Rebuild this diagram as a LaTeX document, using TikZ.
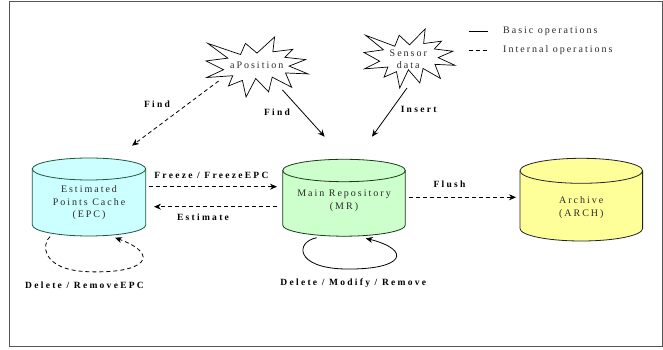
\documentclass[tikz,border=0pt]{standalone}
\usepackage{fontspec}
\setmainfont{Liberation Serif}
\newfontfamily\trackedfont[LetterSpace=20]{Liberation Serif}
\newfontfamily\trackedbold[LetterSpace=24]{Liberation Serif}
\usetikzlibrary{arrows.meta}

\definecolor{epcfill}{HTML}{CCFFFF}
\definecolor{mrfill}{HTML}{CCFFCC}
\definecolor{archfill}{HTML}{FFFF99}
\definecolor{epcline}{HTML}{1E5A3C}
\definecolor{mrline}{HTML}{1E3A1E}
\definecolor{archline}{HTML}{222222}
\definecolor{frameline}{HTML}{555555}
\definecolor{textgray}{HTML}{2A2A2A}

% database cylinder: centre x, top-ellipse y, bottom-ellipse y, x radius, y radius, fill, stroke
\newcommand\drawdb[7]{%
  \fill[#6] (#1-#4,#2) -- (#1-#4,#3)
    arc[start angle=180,end angle=360,x radius=#4,y radius=#5]
    -- (#1+#4,#2) arc[start angle=0,end angle=180,x radius=#4,y radius=#5] -- cycle;
  \draw[#7,line width=0.8pt] (#1-#4,#2) -- (#1-#4,#3)
    arc[start angle=180,end angle=360,x radius=#4,y radius=#5] -- (#1+#4,#2);
  \draw[#7,line width=0.8pt] (#1,#2) ellipse[x radius=#4,y radius=#5];
}

% explosion outline in a 100 x 100 box (y downwards)
\newcommand\burstpath{(50,26.85) -- (67.23,0) -- (65.53,24.65) -- (85.09,20.63) -- (77.32,33.87)
  -- (97.67,37.67) -- (81.51,48.50) -- (100,61.53) -- (77.95,59.92) -- (84.00,83.77)
  -- (64.91,66.93) -- (61.33,91.38) -- (48.76,69.14) -- (39.28,100) -- (35.72,72.35)
  -- (22.05,81.56) -- (26.24,64.52) -- (0.63,67.53) -- (17.23,54.51) -- (0,39.88)
  -- (21.42,35.26) -- (1.71,10.63) -- (33.85,29.26) -- (38.67,10.63) -- cycle}

\tikzset{
  dbtext/.style={font=\trackedfont\fontsize{10}{12.5}\selectfont, text=textgray,
    align=center, inner sep=0pt},
  oplabel/.style={font=\trackedbold\bfseries\fontsize{9.5}{11}\selectfont, text=black,
    inner sep=0pt},
  legendtext/.style={font=\trackedfont\fontsize{10}{12}\selectfont, text=textgray,
    anchor=west, inner sep=0pt},
  basicop/.style={line width=0.8pt, -{Stealth[length=7pt,width=6pt]}},
  internalop/.style={line width=0.8pt, dash pattern=on 4pt off 3pt,
    -{Stealth[length=7pt,width=6pt]}},
  burst/.style={line width=0.7pt, fill=white}
}

\begin{document}
\begin{tikzpicture}[x=1pt,y=1pt]
\useasboundingbox (0,0) rectangle (663,350);
\fill[white] (0,0) rectangle (663,350);
\draw[frameline, line width=1pt] (9.5,3.5) rectangle (662,348.5);

% legend
\draw[line width=0.8pt] (468.5,319) -- (488,319);
\draw[line width=0.8pt, dash pattern=on 4pt off 3pt] (468.5,300) -- (489,300);
\node[legendtext] (lgbasic) at (503,319) {Basic operations};
\node[legendtext] (lginternal) at (503,300) {Internal operations};

% stores
\drawdb{89}{181}{125}{56.7}{11}{epcfill}{epcline}
\drawdb{344}{179.5}{125}{61.3}{11.2}{mrfill}{mrline}
\drawdb{581.3}{179.2}{121.5}{61.3}{12.5}{archfill}{archline}
\node[dbtext, minimum width=113.4pt] (epc) at (89,147) {Estimated\\Points Cache\\(EPC)};
\node[dbtext, minimum width=122.6pt] (mr) at (344,149.2) {Main Repository\\(MR)};
\node[dbtext, minimum width=122.6pt] (arch) at (581.3,142.5) {Archive\\(ARCH)};

% event sources
\begin{scope}[shift={(206,313)},x=1.02pt,y=-0.60pt]
  \draw[burst] \burstpath;
\end{scope}
\begin{scope}[shift={(364,321)},x=0.91pt,y=-0.59pt]
  \draw[burst] \burstpath;
\end{scope}
\node[dbtext] (apos) at (256.7,285) {aPosition};
\node[dbtext] (sensor) at (408.3,291) {Sensor\\data};

% operations
\draw[internalop] ([shift={(-38.1,-16)}]apos.center) -- ([shift={(43,57.3)}]epc.center);
\draw[basicop] ([shift={(25.8,-25)}]apos.center) -- ([shift={(-19.3,64.1)}]mr.center);
\draw[basicop] ([shift={(-1.3,-29)}]sensor.center) -- ([shift={(28,64.1)}]mr.center);
\draw[internalop] ([shift={(59.8,16.3)}]epc.center) -- ([shift={(-67,14.1)}]mr.center);
\draw[internalop] ([shift={(-67,-5.9)}]mr.center) -- ([shift={(65,-3.7)}]epc.center);
\draw[internalop] ([shift={(65,3.5)}]mr.center) -- ([shift={(-65.3,10.2)}]arch.center);
\draw[internalop] ([shift={(-39,-33.7)}]epc.center)
  .. controls (42,107) and (40,80) .. (88,78.3)
  .. controls (145,76) and (162,95) .. ([shift={(26,-34.7)}]epc.center);
\draw[basicop] ([shift={(-27.3,-36.9)}]mr.center)
  .. controls (295,108) and (295,82) .. (345,81)
  .. controls (405,80) and (412,100) .. ([shift={(21.7,-37.5)}]mr.center);

% operation labels
\node[oplabel] (lfindepc) at (157,246) {Find};
\node[oplabel] (lfindmr) at (277,238) {Find};
\node[oplabel] (linsert) at (418.6,241) {Insert};
\node[oplabel] (lfreeze) at (211.4,174.3) {Freeze / FreezeEPC};
\node[oplabel] (lestimate) at (203,132.7) {Estimate};
\node[oplabel] (lflush) at (449.5,166) {Flush};
\node[oplabel] (lremoveepc) at (84.5,64.3) {Delete / RemoveEPC};
\node[oplabel] (lmodify) at (353.3,66.7) {Delete / Modify / Remove};
\end{tikzpicture}
\end{document}
